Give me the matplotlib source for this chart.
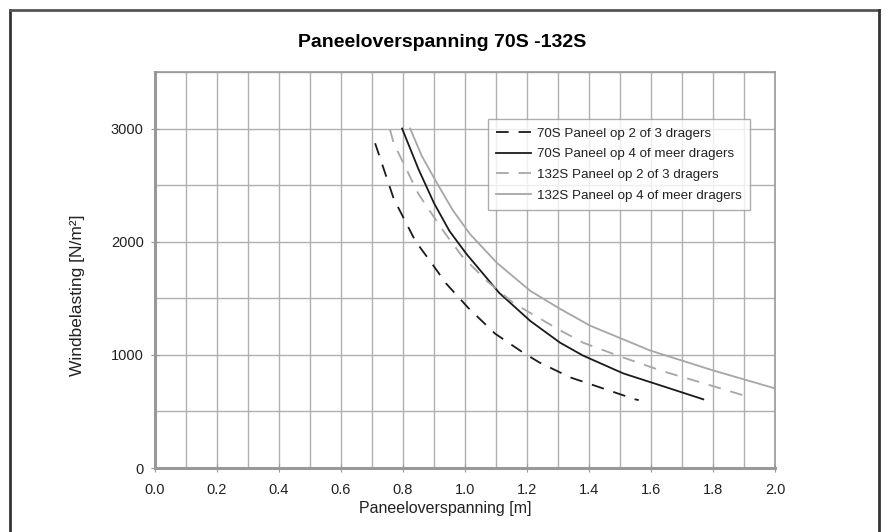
import matplotlib.pyplot as plt
from matplotlib.lines import Line2D

plt.rcParams['font.family'] = ['Liberation Sans', 'DejaVu Sans']

# 70S panel, 2 or 3 supports (dashed black)
x70_23 = [0.71, 0.77, 0.84, 0.887, 0.94, 1.01, 1.097, 1.187, 1.24, 1.34, 1.445, 1.548, 1.56]
y70_23 = [2870, 2380, 2005, 1830, 1627, 1416, 1187, 1020, 932, 800, 703, 607, 600]

# 70S panel, 4 or more supports (solid black)
x70_4 = [0.797, 0.85, 0.9, 0.95, 1.005, 1.11, 1.21, 1.306, 1.38, 1.51, 1.64, 1.768]
y70_4 = [3000, 2640, 2340, 2093, 1890, 1548, 1300, 1108, 994, 836, 721, 607]

# 132S panel, 2 or 3 supports (dashed grey)
x132_23 = [0.758, 0.77, 0.85, 0.935, 0.99, 1.07, 1.155, 1.226, 1.297, 1.38, 1.51, 1.64, 1.77, 1.9]
y132_23 = [2990, 2870, 2420, 2075, 1873, 1653, 1460, 1345, 1231, 1108, 976, 853, 748, 640]

# 132S panel, 4 or more supports (solid grey)
x132_4 = [0.823, 0.86, 0.91, 0.96, 1.016, 1.103, 1.21, 1.306, 1.403, 1.597, 1.8, 2.0]
y132_4 = [3000, 2760, 2515, 2280, 2067, 1812, 1566, 1407, 1258, 1038, 862, 703]

labels = ['70S Paneel op 2 of 3 dragers', '70S Paneel op 4 of meer dragers',
          '132S Paneel op 2 of 3 dragers', '132S Paneel op 4 of meer dragers']

black = '#1a1a1a'
grey = '#a6a6a6'

fig = plt.figure(figsize=(8.85, 5.32), dpi=100)
ax = fig.add_axes([0.175, 0.1203, 0.701, 0.7444])

dash = (0, (7, 5.5))
ax.plot(x70_23, y70_23, color=black, lw=1.3, linestyle=dash, label=labels[0])
ax.plot(x70_4, y70_4, color=black, lw=1.3, label=labels[1])
ax.plot(x132_23, y132_23, color=grey, lw=1.3, linestyle=dash, label=labels[2])
ax.plot(x132_4, y132_4, color=grey, lw=1.3, label=labels[3])

ax.set_xlim(0, 2.0)
ax.set_ylim(0, 3500)
ax.set_xticks([i * 0.2 for i in range(11)])
ax.set_xticklabels([f'{i * 0.2:.1f}' for i in range(11)])
ax.set_xticks([i * 0.1 for i in range(21)], minor=True)
ax.set_yticks([0, 1000, 2000, 3000])
ax.set_yticks([500, 1500, 2500, 3500], minor=True)
ax.grid(True, which='both', color='#b0b0b0', lw=1)
ax.set_axisbelow(True)
ax.tick_params(which='major', direction='inout', length=6, color='#999999',
               labelsize=10.5, labelcolor='#222222')
ax.tick_params(axis='x', pad=8)
ax.tick_params(axis='y', pad=5)
ax.tick_params(which='minor', length=0)
for s in ax.spines.values():
    s.set_color('#999999')
    s.set_linewidth(1.2)
ax.spines['left'].set_linewidth(2.2)
ax.spines['bottom'].set_linewidth(2.2)

ax.set_xlabel('Paneeloverspanning [m]', fontsize=11.5, color='#222222', labelpad=3)
ax.xaxis.set_label_coords(0.468, -0.083)
ax.set_ylabel('Windbelasting [N/m²]', fontsize=12.5, color='#222222')
ax.yaxis.set_label_coords(-0.112, 0.437)
fig.text(0.5, 0.92, 'Paneeloverspanning 70S -132S', ha='center', va='center',
         fontsize=14, fontweight='bold', color='black')

leg = ax.legend(loc='upper right', bbox_to_anchor=(0.97, 0.897), fontsize=9.6,
                frameon=True, fancybox=False, edgecolor='#999999', handlelength=2.6,
                handletextpad=0.5, borderpad=0.6, labelspacing=0.62)
leg.get_frame().set_linewidth(1)
for t in leg.get_texts():
    t.set_color('#222222')

# outer frame (left, top, right)
fig.add_artist(Line2D([0.0118, 0.0118], [0, 0.981], color='#333333', lw=2))
fig.add_artist(Line2D([0.0118, 0.9932], [0.981, 0.981], color='#555555', lw=2))
fig.add_artist(Line2D([0.9932, 0.9932], [0, 0.981], color='#333333', lw=2))

fig.savefig('out.png', dpi=100)
